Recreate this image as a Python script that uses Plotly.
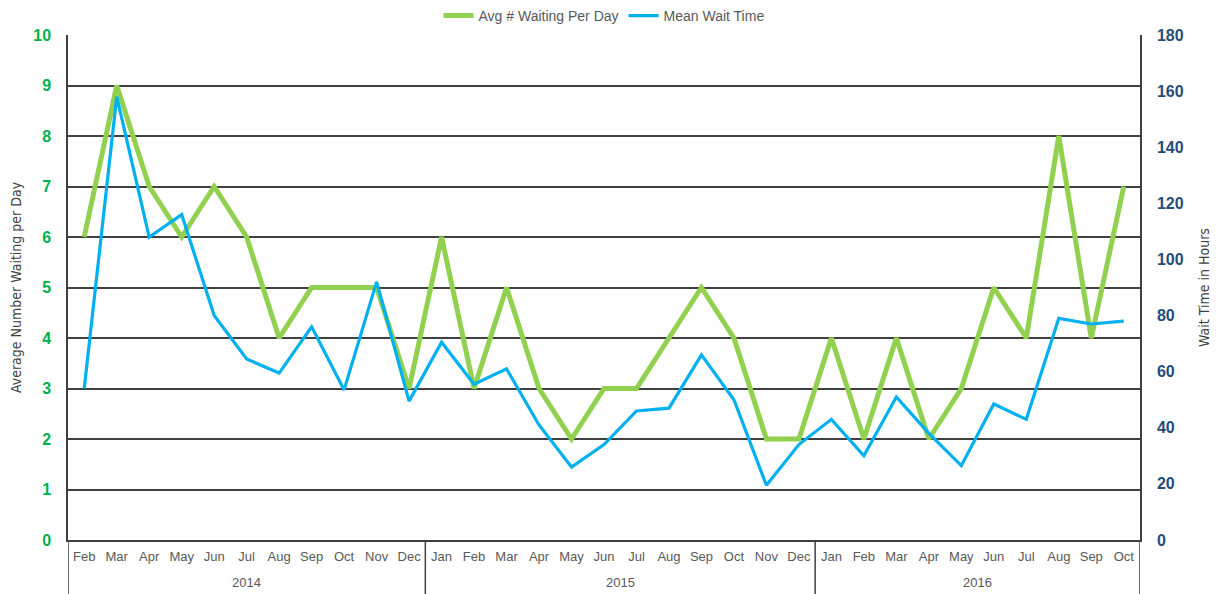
import plotly.graph_objects as go

years = ["2014"] * 11 + ["2015"] * 12 + ["2016"] * 10
months = ["Feb", "Mar", "Apr", "May", "Jun", "Jul", "Aug", "Sep", "Oct", "Nov", "Dec",
          "Jan", "Feb", "Mar", "Apr", "May", "Jun", "Jul", "Aug", "Sep", "Oct", "Nov", "Dec",
          "Jan", "Feb", "Mar", "Apr", "May", "Jun", "Jul", "Aug", "Sep", "Oct"]

avg_waiting = [6, 9, 7, 6, 7, 6, 4, 5, 5, 5, 3,
               6, 3, 5, 3, 2, 3, 3, 4, 5, 4, 2, 2,
               4, 2, 4, 2, 3, 5, 4, 8, 4, 7]

mean_wait_hours = [54, 158, 108, 116, 80, 64.5, 59.5, 76, 53.5, 92, 49.5,
                   70.5, 55.5, 61, 41, 26, 34, 46, 47, 66, 50, 19.5, 34,
                   43, 30, 51, 38, 26.5, 48.5, 43, 79, 77, 78]

idx = list(range(len(months)))

fig = go.Figure()
fig.add_trace(go.Scatter(x=idx, y=avg_waiting, name="Avg # Waiting Per Day", mode="lines",
                         line=dict(color="#92D050", width=5)))
fig.add_trace(go.Scatter(x=idx, y=mean_wait_hours, name="Mean Wait Time", mode="lines",
                         line=dict(color="#00B0F0", width=3.2), yaxis="y2"))

narrow = "Liberation Sans Narrow, DejaVu Sans Condensed, Arial Narrow, sans-serif"

# figure is shown with an 8px page offset; plot area targets page box 68..1140 x 35..540
W, H = 1214, 586
ml, mt, mr, mb = 60, 27, 82, 54
plot_h = H - mt - mb
line_col = "#404040"

# year groups: labels and dividers
groups = []
for i, yv in enumerate(years):
    if not groups or groups[-1][0] != yv:
        groups.append([yv, i, i])
    else:
        groups[-1][2] = i

below = -54 / plot_h
for yv, a, b in groups:
    fig.add_annotation(x=(a + b) / 2, y=-42 / plot_h, xref="x", yref="paper", text=yv,
                       showarrow=False, yanchor="middle", font=dict(size=13, color="#595959"))
bounds = [groups[0][1] - 0.5] + [g[2] + 0.5 for g in groups]
for bx in bounds:
    fig.add_shape(type="line", xref="x", yref="paper", x0=bx, x1=bx, y0=below, y1=0,
                  line=dict(color=line_col, width=1.5), layer="above")

fig.update_layout(
    width=W, height=H,
    margin=dict(l=ml, r=mr, t=mt, b=mb, autoexpand=False),
    paper_bgcolor="white", plot_bgcolor="white",
    font=dict(family="Liberation Sans, Arial, sans-serif", color="#595959"),
    showlegend=True,
    legend=dict(orientation="h", x=0.5, xanchor="center", y=1 + 19 / plot_h, yanchor="middle",
                font=dict(size=14, color="#595959"), bgcolor="rgba(0,0,0,0)"),
    xaxis=dict(range=[-0.5, len(months) - 0.5], tickmode="array", tickvals=idx, ticktext=months,
               showline=True, linecolor=line_col, linewidth=1.5,
               showgrid=False, zeroline=False, ticks="", ticklabelstandoff=4,
               tickfont=dict(size=13, color="#595959")),
    yaxis=dict(range=[0, 10], dtick=1, showgrid=True, gridcolor=line_col, gridwidth=1.5,
               showline=True, linecolor=line_col, linewidth=1.5, zeroline=False,
               ticks="", ticklabelstandoff=12,
               tickfont=dict(size=16, color="#00B050", weight="bold"),
               title=dict(text="Average Number Waiting per Day", font=dict(size=14, color="#404040", family=narrow),
                          standoff=10)),
    yaxis2=dict(range=[0, 180], dtick=20, overlaying="y", side="right", showgrid=False,
                showline=True, linecolor=line_col, linewidth=1.5, zeroline=False, ticks="",
                ticklabelstandoff=12,
                tickfont=dict(size=16, color="#1F4E79", weight="bold"),
                title=dict(text="Wait Time in Hours", font=dict(size=14, color="#404040", family=narrow),
                           standoff=16)),
)

fig.write_html("out.html")
